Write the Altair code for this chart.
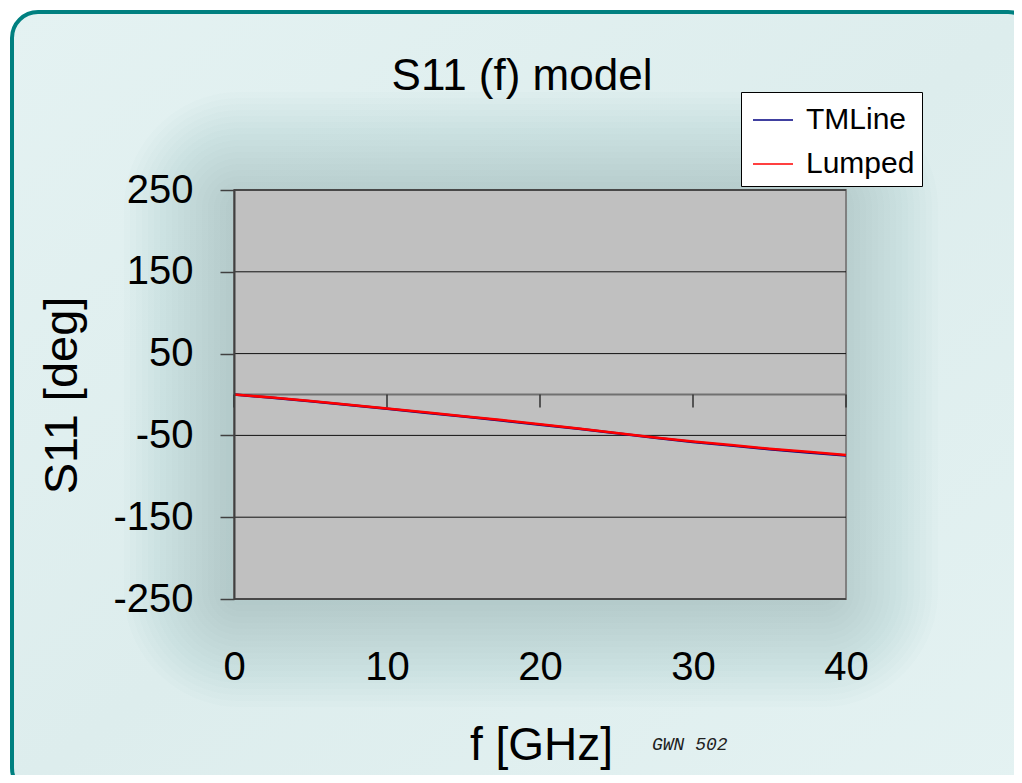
import altair as alt
import pandas as pd

# ---- data ----
freq = [0, 2.5, 5, 7.5, 10, 12.5, 15, 17.5, 20, 22.5, 25, 27.5, 30, 32.5, 35, 37.5, 40]
tmline = [0, -4.0, -8.3, -12.8, -17.5, -22.2, -27.0, -31.8, -37.0, -42.0, -47.5, -53.0, -58.0, -62.5, -67.0, -70.8, -74.5]
lumped = [0, -3.8, -8.0, -12.5, -17.0, -21.8, -26.5, -31.3, -36.5, -41.5, -47.0, -52.5, -57.5, -61.8, -66.3, -70.0, -74.0]
series_names = ["TMLine", "Lumped"]
series_colors = ["#000080", "#ff0000"]
y_ticks = [-250, -150, -50, 50, 150, 250]
x_ticks = [0, 10, 20, 30, 40]

W, H = 612, 409
PAD = {"left": 226, "top": 182, "right": 168, "bottom": 176}

df_tm = pd.DataFrame({"f": freq, "S11": tmline, "series": series_names[0]})
df_lu = pd.DataFrame({"f": freq, "S11": lumped, "series": series_names[1]})
df_grid = pd.DataFrame({"v": y_ticks})
df_xt = pd.DataFrame({"f": x_ticks})
one = pd.DataFrame({"a": [0]})

x_scale = alt.Scale(domain=[0, 40], nice=False, zero=False)
y_scale = alt.Scale(domain=[-250, 250], nice=False, zero=False)

x_axis = alt.Axis(values=x_ticks, title="f [GHz]", labelFontSize=40,
                  labelFont="Liberation Sans", labelColor="black",
                  domain=False, ticks=False, grid=False, labelPadding=48,
                  labelFlush=False, labelOverlap=False,
                  titleFontSize=46, titleFont="Liberation Sans", titleFontWeight="normal",
                  titleColor="black", titleX=307, titleY=146,
                  titleBaseline="middle", titleAlign="center", zindex=1)
y_axis = alt.Axis(values=y_ticks, title="S11 [deg]", labelFontSize=40,
                  labelExpr="'' + datum.value",
                  labelFont="Liberation Sans", labelColor="black", labelPadding=27,
                  tickSize=14, tickColor="#404040", tickWidth=1.5,
                  domainColor="#404040", domainWidth=2, grid=False, labelOverlap=False,
                  titleFontSize=47, titleFont="Liberation Sans", titleFontWeight="normal",
                  titleColor="black", titleX=-172, titleY=205, titleAngle=270,
                  titleBaseline="middle", titleAlign="center", zindex=1)

legend = alt.Legend(title=None, orient="none", legendX=507, legendY=-98,
                    fillColor="white", strokeColor="black", padding=7, symbolOffset=4,
                    symbolType="stroke", symbolSize=1600, symbolStrokeWidth=1.5,
                    labelFontSize=30, labelFont="Liberation Sans", labelColor="black",
                    labelOffset=12, rowPadding=8, labelLimit=300)
color = alt.Color("series:N", scale=alt.Scale(domain=series_names, range=series_colors),
                  legend=legend)

frame = alt.Chart(one).mark_rect(
    cornerRadius=26, stroke="#008080", strokeWidth=4,
    fill={"gradient": "linear", "x1": 0, "y1": 0, "x2": 1, "y2": 1,
          "stops": [{"offset": 0, "color": "#e4f2f2"},
                    {"offset": 0.5, "color": "#ddeded"},
                    {"offset": 1, "color": "#e4f2f2"}]}
).encode(x=alt.value(-222), x2=alt.value(800), y=alt.value(-178), y2=alt.value(604))

# soft glow around the plot area (stacked translucent rounded rectangles)
glow_layers = []
for e in range(104, 0, -6):
    glow_layers.append(
        alt.Chart(one).mark_rect(fill="#5a9696", opacity=0.021, cornerRadius=e + 12).encode(
            x=alt.value(-e - 6), x2=alt.value(W + e - 12),
            y=alt.value(-e + 6), y2=alt.value(H + e + 4)))

plot_bg = alt.Chart(one).mark_rect(fill="#c0c0c0", stroke="#808080", strokeWidth=2).encode(
    x=alt.value(0), x2=alt.value(W), y=alt.value(0), y2=alt.value(H))

grid = alt.Chart(df_grid).mark_rule(color="#111111", strokeWidth=1).encode(
    y=alt.Y("v:Q", scale=y_scale, axis=y_axis), x=alt.value(0), x2=alt.value(W))

zero_rule = alt.Chart(one).mark_rule(color="#707070", strokeWidth=2).encode(
    y=alt.Y(datum=0, type="quantitative", scale=y_scale, axis=y_axis),
    x=alt.value(0), x2=alt.value(W))

tick_rules = alt.Chart(df_xt).mark_rule(color="#303030", strokeWidth=1.5).encode(
    x=alt.X("f:Q", scale=x_scale, axis=x_axis),
    y=alt.Y(datum=0, type="quantitative", scale=y_scale, axis=y_axis),
    y2=alt.Y2(datum=-16))

tm_line = alt.Chart(df_tm).mark_line(strokeWidth=2.5).encode(
    x=alt.X("f:Q", scale=x_scale, axis=x_axis),
    y=alt.Y("S11:Q", scale=y_scale, axis=y_axis),
    color=color)

lu_line = alt.Chart(df_lu).mark_line(strokeWidth=2.5).encode(
    x=alt.X("f:Q", scale=x_scale, axis=x_axis),
    y=alt.Y("S11:Q", scale=y_scale, axis=y_axis),
    color=color)

note = alt.Chart(one).mark_text(text="GWN 502", font="Liberation Mono", fontStyle="italic",
                                fontSize=18, align="left", baseline="middle",
                                color="#202020").encode(x=alt.value(418), y=alt.value(555))

chart = alt.layer(frame, *glow_layers, plot_bg, grid, zero_rule, tick_rules,
                  tm_line, lu_line, note).properties(
    width=W, height=H, padding=PAD,
    autosize=alt.AutoSizeParams(type="none"),
    background="white",
    title=alt.TitleParams("S11 (f) model", fontSize=44, font="Liberation Sans",
                          fontWeight="normal", color="black", anchor="middle",
                          frame="group", offset=0, baseline="alphabetic", dx=-18, dy=124),
).configure_view(strokeWidth=0).configure(font="Liberation Sans")

chart.save("out.html", embed_options={"renderer": "svg", "actions": False})
